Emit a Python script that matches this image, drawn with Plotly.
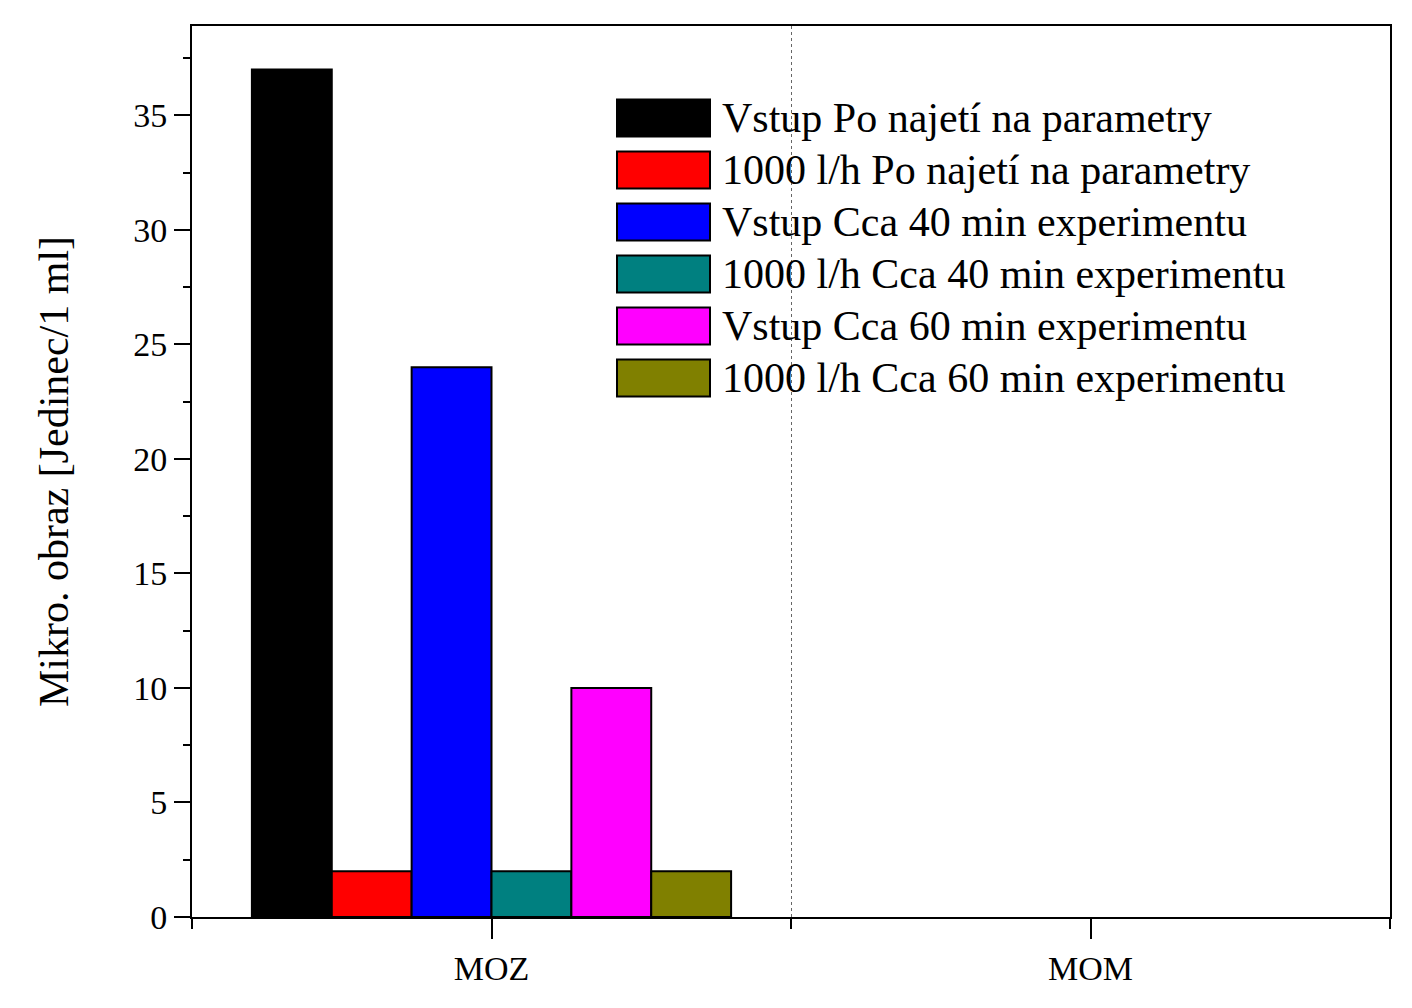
import plotly.graph_objects as go

categories = ["MOZ", "MOM"]
series_names = [
    "Vstup Po najetí na parametry",
    "1000 l/h Po najetí na parametry",
    "Vstup Cca 40 min experimentu",
    "1000 l/h Cca 40 min experimentu",
    "Vstup Cca 60 min experimentu",
    "1000 l/h Cca 60 min experimentu",
]
vstup_po_najeti = [37, 0]
l1000_po_najeti = [2, 0]
vstup_40min = [24, 0]
l1000_40min = [2, 0]
vstup_60min = [10, 0]
l1000_60min = [2, 0]
series_values = [vstup_po_najeti, l1000_po_najeti, vstup_40min, l1000_40min, vstup_60min, l1000_60min]
colors = ["#000000", "#FF0000", "#0000FF", "#008080", "#FF00FF", "#808000"]
y_ticks = [0, 5, 10, 15, 20, 25, 30, 35]

FONT = "Liberation Serif, Times New Roman, serif"
xpos = list(range(len(categories)))

fig = go.Figure()
for name, vals, col in zip(series_names, series_values, colors):
    fig.add_trace(go.Bar(
        x=xpos, y=vals, name=name, showlegend=False,
        marker=dict(color=col, line=dict(color="black", width=[2 if v else 0 for v in vals])),
    ))

# Legend drawn as boxes + labels (large swatches like the original)
PLOT_L, PLOT_R, PLOT_T, PLOT_B = 192, 1390, 26, 917
def px_x(p):
    return (p - PLOT_L) / (PLOT_R - PLOT_L)
def px_y(p):
    return (PLOT_B - p) / (PLOT_B - PLOT_T)

shapes = []
annotations = []
for i, (name, col) in enumerate(zip(series_names, colors)):
    cy = 118 + 52 * i
    shapes.append(dict(type="rect", xref="x domain", yref="y domain",
                       x0=px_x(617), x1=px_x(710), y0=px_y(cy + 18.5), y1=px_y(cy - 18.5),
                       fillcolor=col, line=dict(color="black", width=2)))
    annotations.append(dict(xref="x domain", yref="y domain", x=px_x(720), y=px_y(cy),
                            xanchor="left", yanchor="middle", showarrow=False, text=name,
                            font=dict(family=FONT, size=42, color="black")))

fig.update_layout(
    width=1412, height=1008,
    margin=dict(l=184, r=30, t=18, b=99),
    paper_bgcolor="white", plot_bgcolor="white",
    barmode="group", bargap=0.2, bargroupgap=0,
    font=dict(family=FONT, color="black"),
    showlegend=False,
    shapes=shapes, annotations=annotations,
    xaxis=dict(
        range=[-0.5, 1.5],
        tickmode="array", tickvals=xpos, ticktext=categories,
        ticks="outside", ticklen=20, tickwidth=2, tickcolor="black",
        showline=True, linecolor="black", linewidth=2, mirror=True,
        showgrid=False, zeroline=False,
        tickfont=dict(family=FONT, size=34, color="black"),
        minor=dict(tickmode="linear", tick0=0.5, dtick=1, ticks="outside", ticklen=10,
                   tickwidth=2, tickcolor="black", showgrid=True,
                   gridcolor="#666666", gridwidth=1.2, griddash="dot"),
    ),
    yaxis=dict(
        range=[0, 38.9],
        tickmode="array", tickvals=y_ticks,
        ticks="outside", ticklen=16, tickwidth=2, tickcolor="black",
        showline=True, linecolor="black", linewidth=2, mirror=True,
        showgrid=False, zeroline=False,
        tickfont=dict(family=FONT, size=34, color="black"),
        minor=dict(tickmode="linear", tick0=2.5, dtick=5, ticks="outside", ticklen=7,
                   tickwidth=2, tickcolor="black", showgrid=False),
        title=dict(text="Mikro. obraz [Jedinec/1 ml]", font=dict(family=FONT, size=42, color="black"),
                   standoff=52),
    ),
    yaxis2=dict(
        range=[0, 38.9], overlaying="y", side="right", anchor="x",
        tickmode="array", tickvals=y_ticks,
        ticks="inside", ticklen=17, tickwidth=2, tickcolor="black",
        showticklabels=False, showgrid=False, zeroline=False, showline=False,
        minor=dict(tickmode="linear", tick0=2.5, dtick=5, ticks="inside", ticklen=8,
                   tickwidth=2, tickcolor="black", showgrid=False),
    ),
)

fig.write_html("out.html")
